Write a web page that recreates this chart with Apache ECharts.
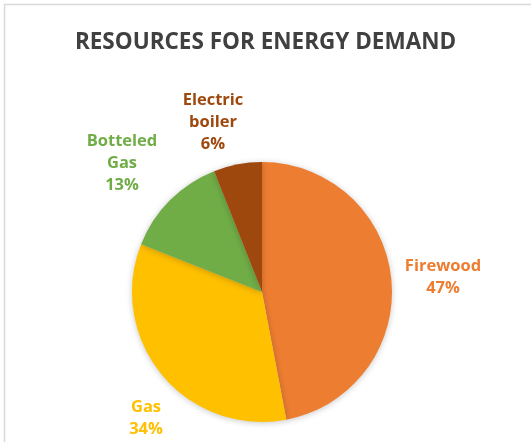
<!DOCTYPE html>
<html>
<head>
<meta charset="utf-8">
<style>
  html, body { margin: 0; padding: 0; background: #fff; }
  #chart { width: 531px; height: 442px; }
</style>
<script src="https://cdn.jsdelivr.net/npm/echarts@6/dist/echarts.min.js"></script>
</head>
<body>
<div id="chart"></div>
<script>
// Energy sources and their share of demand (%)
const categories = ['Firewood', 'Gas', 'Botteled Gas', 'Electric boiler'];
const shares = [47, 34, 13, 6];
const colors = ['#ED7D31', '#FFC000', '#70AD47', '#9E480E'];
// Label anchor points (px) for each category, in the same order
const labelSpots = [[443, 277], [146, 418], [122, 163], [213, 122]];

const chart = echarts.init(document.getElementById('chart'), null, { renderer: 'canvas' });

const FONT = '"Open Sans", "Liberation Sans", sans-serif';

chart.setOption({
  animation: false,
  backgroundColor: '#ffffff',
  title: {
    text: 'RESOURCES FOR ENERGY DEMAND',
    left: 'center',
    top: 26,
    textStyle: { fontFamily: FONT, fontSize: 22.5, fontWeight: 'bold', color: '#404040' }
  },
  graphic: [{
    type: 'rect',
    shape: { x: 4.5, y: 4.5, width: 700, height: 700 },
    style: { fill: 'none', stroke: '#d9d9d9', lineWidth: 1.5 },
    silent: true
  }],
  series: [{
    type: 'pie',
    center: [262, 292],
    radius: 130,
    startAngle: 90,
    clockwise: true,
    data: categories.map((name, i) => ({
      name: name,
      value: shares[i],
      itemStyle: { color: colors[i] },
      label: { color: colors[i] }
    })),
    itemStyle: {
      shadowBlur: 6,
      shadowColor: 'rgba(0,0,0,0.22)',
      shadowOffsetY: 1
    },
    label: {
      show: true,
      position: 'outside',
      formatter: p => p.name.replace(' ', '\n') + '\n' + Math.round(p.percent) + '%',
      fontFamily: FONT,
      fontSize: 16.5,
      fontWeight: 'bold',
      lineHeight: 22,
      align: 'center'
    },
    labelLine: { show: false },
    labelLayout: p => ({
      x: labelSpots[p.dataIndex][0],
      y: labelSpots[p.dataIndex][1],
      align: 'center',
      verticalAlign: 'middle'
    })
  }]
});
</script>
</body>
</html>
